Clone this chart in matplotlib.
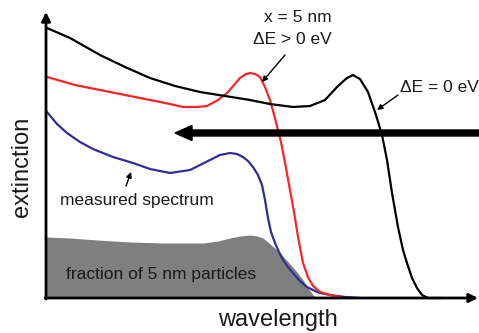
import matplotlib
matplotlib.use("Agg")
import matplotlib.pyplot as plt

plt.rcParams['font.family'] = ['Liberation Sans', 'DejaVu Sans']

# schematic spectra (arbitrary units: wavelength, extinction)
wl_black = [1, 24, 54, 79, 104, 129, 154, 179, 204, 224, 247, 264, 279, 292, 301, 307,
            314, 322, 330, 336, 341, 346, 352, 357, 361, 366, 371, 376, 382, 395]
ext_black = [270, 260, 243, 231, 220, 212, 206, 202, 198, 194, 191, 192, 198, 212, 220, 223,
             219, 206, 183, 163, 138, 105, 71, 48, 35, 20, 10, 3, 0, 0]

wl_red = [1, 29, 54, 79, 104, 124, 137, 151, 161, 172, 181, 188, 194, 200, 204, 209, 214,
          219, 224, 230, 235, 240, 244, 248, 252, 257, 262, 267, 274, 284, 294]
ext_red = [221, 213, 208, 203, 198, 194, 191, 191, 192, 198, 205, 213, 220, 224, 225, 224, 221,
           211, 198, 176, 156, 130, 108, 86, 61, 35, 21, 12, 6, 3, 1]

wl_blue = [1, 6, 11, 21, 34, 47, 67, 87, 104, 124, 144, 154, 164, 174, 184, 191, 197, 202, 207,
           212, 216, 219, 222, 225, 229, 233, 237, 242, 247, 254, 261, 269, 274, 284, 299, 314]
ext_blue = [186, 180, 174, 165, 156, 149, 141, 135, 129, 125, 128, 133, 138, 143, 145, 144, 141, 137, 131,
            123, 113, 98, 80, 66, 55, 46, 38, 31, 25, 17, 11, 7, 5, 3, 1, 0]

wl_frac = [0, 24, 51, 84, 117, 157, 172, 184, 194, 204, 211, 217, 224, 231, 237, 244, 251,
           257, 262, 267, 270]
ext_frac = [61, 60, 58, 56, 55, 55, 57, 60, 62, 63, 62, 60, 54, 48, 42, 34, 26,
            18, 10, 3, 0]

fig = plt.figure(figsize=(4.79, 3.33), dpi=100)
ax = fig.add_axes([0, 0, 1, 1])
ax.set_xlim(-46, 433)
ax.set_ylim(-35, 298)
ax.axis('off')

ax.fill_between(wl_frac, 0, ext_frac, color='#7f7f7f', lw=0, zorder=1)
ax.plot(wl_blue, ext_blue, color='#2e2e96', lw=1.6, zorder=3, solid_joinstyle='round')
ax.plot(wl_red, ext_red, color='#ff2424', lw=1.6, zorder=3, solid_joinstyle='round')
ax.plot(wl_black, ext_black, color='black', lw=1.6, zorder=3, solid_joinstyle='round')

# axes with arrow heads
ax.annotate('', xy=(0, 286), xytext=(0, -1),
            arrowprops=dict(arrowstyle='-|>', lw=2, color='black', mutation_scale=13,
                            shrinkA=0, shrinkB=0), zorder=4)
ax.annotate('', xy=(432, 0), xytext=(-1, 0),
            arrowprops=dict(arrowstyle='-|>', lw=2, color='black', mutation_scale=13,
                            shrinkA=0, shrinkB=0), zorder=4)

# big arrow
ax.arrow(440, 165, -311, 0, width=6, head_width=15, head_length=17,
         length_includes_head=True, color='black', zorder=5)

tc = '#1a1a1a'
ax.text(-13, 131, 'extinction', rotation=90, ha='right', va='center', fontsize=17, color=tc)
ax.text(172, -28, 'wavelength', ha='left', va='baseline', fontsize=17, color=tc)
ax.text(20, 24, 'fraction of 5 nm particles', ha='left', va='center', fontsize=12.5, color=tc)
ax.text(14, 98, 'measured spectrum', ha='left', va='center', fontsize=12.5, color=tc)
ax.text(286, 280, 'x = 5 nm', ha='right', va='center', fontsize=12.5, color=tc)
ax.text(286, 258, 'ΔE > 0 eV', ha='right', va='center', fontsize=12.5, color=tc)
ax.text(354, 211, 'ΔE = 0 eV', ha='left', va='center', fontsize=12.5, color=tc)

ap = dict(arrowstyle='-|>', lw=1, color='black', mutation_scale=8, shrinkA=0, shrinkB=0)
ax.annotate('', xy=(216, 216), xytext=(239, 243), arrowprops=ap)
ax.annotate('', xy=(331, 188), xytext=(352, 203), arrowprops=ap)
ax.annotate('', xy=(85, 126), xytext=(80, 112), arrowprops=ap)

fig.savefig('out.png', dpi=100)
